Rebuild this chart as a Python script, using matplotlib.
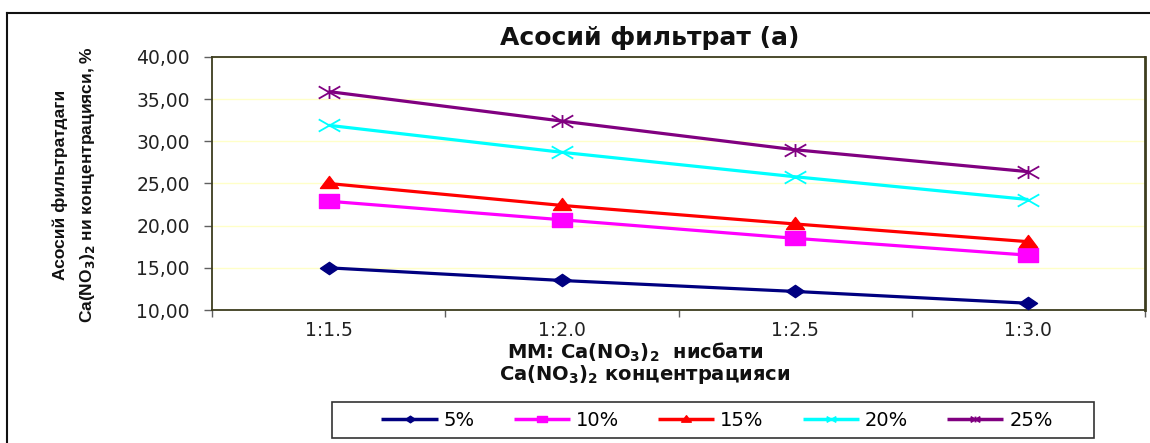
import numpy as np
import matplotlib
matplotlib.use("Agg")
import matplotlib.pyplot as plt
from matplotlib.path import Path
from matplotlib.lines import Line2D
from matplotlib.patches import Rectangle
from matplotlib.ticker import FuncFormatter, FixedLocator

# ---- data ----
ratios = ["1:1.5", "1:2.0", "1:2.5", "1:3.0"]
series_labels = ["5%", "10%", "15%", "20%", "25%"]
conc_5 = [15.0, 13.5, 12.2, 10.8]
conc_10 = [22.9, 20.7, 18.5, 16.5]
conc_15 = [25.0, 22.4, 20.2, 18.1]
conc_20 = [31.9, 28.7, 25.8, 23.1]
conc_25 = [35.9, 32.4, 29.0, 26.4]
y_ticks = [10, 15, 20, 25, 30, 35, 40]

plt.rcParams["mathtext.fontset"] = "custom"
plt.rcParams["mathtext.rm"] = "DejaVu Sans"
plt.rcParams["mathtext.bf"] = "DejaVu Sans:bold"

W, H = 1150, 443
fig = plt.figure(figsize=(W / 100, H / 100), dpi=100)
fig.patch.set_facecolor("white")


def fx(px):
    return px / W


def fy(py):
    return 1 - py / H


# plot area
ax = fig.add_axes([fx(212), fy(310), fx(1145) - fx(212), fy(57) - fy(310)])

# wide marker shapes
def closed(verts):
    v = verts + [verts[0]]
    codes = [Path.MOVETO] + [Path.LINETO] * (len(verts) - 1) + [Path.CLOSEPOLY]
    return Path(v, codes)

diamond = closed([(0, 0.68), (1, 0), (0, -0.68), (-1, 0)])
square = closed([(-1, -0.68), (1, -0.68), (1, 0.68), (-1, 0.68)])
triangle = closed([(-1, -0.55), (1, -0.55), (0, 0.78)])
cross = Path([(-1, -0.57), (1, 0.57), (-1, 0.57), (1, -0.57)],
             [Path.MOVETO, Path.LINETO, Path.MOVETO, Path.LINETO])
star = Path([(-1, -0.57), (1, 0.57), (-1, 0.57), (1, -0.57), (0, -0.6), (0, 0.6)],
            [Path.MOVETO, Path.LINETO, Path.MOVETO, Path.LINETO, Path.MOVETO, Path.LINETO])

series = [conc_5, conc_10, conc_15, conc_20, conc_25]
colors = ["#000080", "#FF00FF", "#FF0000", "#00FFFF", "#800080"]
markers = [diamond, square, triangle, cross, star]
msizes = [13, 14, 13, 15.5, 15.5]
mews = [1, 1, 1, 1.3, 1.3]

x = np.arange(len(ratios)) + 0.5
handles = []
for vals, c, m, ms, mew, lab in zip(series, colors, markers, msizes, mews, series_labels):
    (ln,) = ax.plot(x, vals, color=c, lw=2.3, marker=m, markersize=ms,
                    markerfacecolor=c, markeredgecolor=c, markeredgewidth=mew,
                    label=lab, solid_capstyle="butt", zorder=3)
    handles.append(ln)

ax.set_xlim(0, len(ratios))
ax.set_ylim(10, 40)

# category boundaries carry tick marks, centres carry the labels
ax.xaxis.set_major_locator(FixedLocator(np.arange(len(ratios) + 1)))
ax.xaxis.set_minor_locator(FixedLocator(x))
ax.set_xticklabels([""] * (len(ratios) + 1))
ax.set_xticklabels(ratios, minor=True)
ax.tick_params(axis="x", which="major", direction="out", length=5, width=1, color="#606060")
ax.tick_params(axis="x", which="minor", length=0, pad=8, labelsize=13.5, labelcolor="#222222")

ax.set_yticks(y_ticks)
ax.yaxis.set_major_formatter(FuncFormatter(lambda v, p: f"{v:.2f}".replace(".", ",")))
ax.tick_params(axis="y", direction="out", length=6, width=1, color="#606060",
               pad=10, labelsize=13.5, labelcolor="#222222")

for lbl in ax.get_xticklabels(minor=True) + ax.get_yticklabels():
    lbl.set_family("DejaVu Sans")

ax.grid(axis="y", color="#FFFFC8", lw=1, zorder=0)
ax.set_axisbelow(True)
for side, sp in ax.spines.items():
    sp.set_color("#3d3d1f")
    sp.set_linewidth(1.3)
ax.spines["right"].set_linewidth(2)

# titles
fig.text(fx(650), fy(38), "Асосий фильтрат (а)", ha="center", va="center",
         fontsize=18, fontweight="bold", family="DejaVu Sans", color="#111111")
fig.text(fx(635), fy(352), r"ММ: Ca(NO$_\mathbf{3}$)$_\mathbf{2}$  нисбати", ha="center",
         va="center", fontsize=14, fontweight="bold", family="DejaVu Sans", color="#111111")
fig.text(fx(645), fy(374), r"Ca(NO$_\mathbf{3}$)$_\mathbf{2}$ концентрацияси", ha="center",
         va="center", fontsize=14, fontweight="bold", family="DejaVu Sans", color="#111111")

# y-axis title, two rotated lines
fig.text(fx(60), fy(185), "Асосий фильтратдаги", rotation=90, ha="center", va="center",
         fontsize=12.5, fontweight="bold", family="Liberation Sans", color="#111111")
fig.text(fx(88), fy(185), r"Ca(NO$_\mathbf{3}$)$_\mathbf{2}$ ни концентрацияси, %",
         rotation=90, ha="center", va="center",
         fontsize=12.5, fontweight="bold", family="Liberation Sans", color="#111111")

# legend
leg = fig.legend(handles=handles, loc="center", bbox_to_anchor=(fx(717), fy(420)),
                 ncol=5, frameon=False, handlelength=2.9,
                 handletextpad=0.3, columnspacing=2.0, borderpad=0,
                 prop={"family": "DejaVu Sans", "size": 14})
for h in leg.legend_handles:
    h.set_markersize(7)
    h.set_linewidth(2.5)

fig.patches.append(Rectangle((fx(332), fy(438)), fx(1094) - fx(332), fy(402) - fy(438),
                             transform=fig.transFigure, fill=False,
                             edgecolor="#333333", lw=1.2))

# outer frame (top and left edges)
fig.add_artist(Line2D([fx(7), 1], [fy(13), fy(13)], transform=fig.transFigure,
                      color="#111111", lw=1.5))
fig.add_artist(Line2D([fx(7), fx(7)], [0, fy(13)], transform=fig.transFigure,
                      color="#111111", lw=1.5))

fig.savefig("out.png", dpi=100)
